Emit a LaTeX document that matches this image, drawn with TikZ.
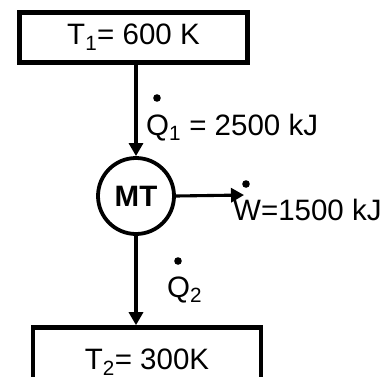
\documentclass[tikz,border=0pt]{standalone}
\usepackage{fontspec}
\setmainfont{Liberation Sans}
\usetikzlibrary{arrows.meta}
\begin{document}
\begin{tikzpicture}[x=1pt,y=-1pt,
  every node/.style={font=\fontsize{29.5}{34}\selectfont},
  resbox/.style={draw,line width=4.6pt,rectangle,minimum width=228pt,inner sep=0pt},
  engine/.style={draw,line width=3.8pt,circle,minimum size=76pt,inner sep=0pt,font=\fontsize{29.5}{34}\selectfont\bfseries},
  flow/.style={line width=3.1pt,-{Triangle[length=13pt,width=14pt]}},
  lbl/.style={anchor=base west,inner sep=0pt},
  dotmark/.style={fill=black}]
\useasboundingbox (0,0) rectangle (390,376);
\node[resbox,minimum height=50pt] (top) at (133.5,37.5) {T\textsubscript{1}= 600 K};
\node[engine] (mt) at (136,196) {MT};
\node[resbox,minimum height=70pt] (bot) at (147,362.5) {T\textsubscript{2}= 300K};
\coordinate (w) at (244,195);
\draw[flow] (mt.north |- top.south) -- (mt.north);
\draw[flow] (mt.east) -- (w);
\draw[flow] (mt.south) -- (mt.south |- bot.north);
\node[lbl] (q1) at (146,135) {Q\textsubscript{1} = 2500 kJ};
\node[lbl] (wl) at (233,220) {W=1500 kJ};
\node[lbl] (q2) at (167,297) {Q\textsubscript{2}};
\fill[dotmark] (157,98) circle (3.8pt);
\fill[dotmark] (246,184) circle (3.8pt);
\fill[dotmark] (178,261) circle (3.8pt);
\end{tikzpicture}
\end{document}
